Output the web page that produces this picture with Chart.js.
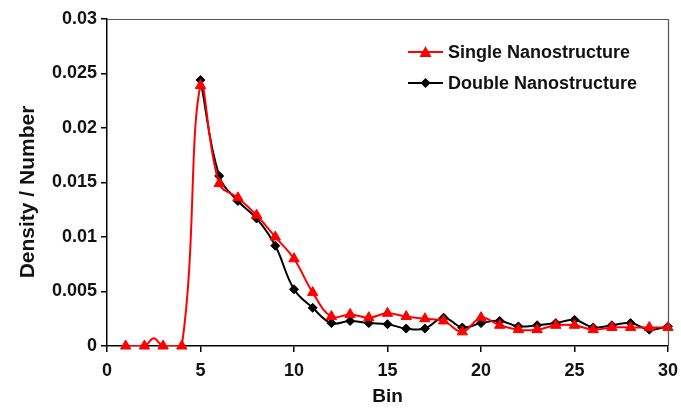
<!DOCTYPE html>
<html>
<head>
<meta charset="utf-8">
<script src="https://cdn.jsdelivr.net/npm/chart.js@4"></script>
<style>
  html, body { margin: 0; padding: 0; background: #fff; }
  canvas { display: block; }
</style>
</head>
<body>
<canvas id="density-chart" width="681" height="412"></canvas>
<script>
const bins = [1, 2, 3, 4, 5, 6, 7, 8, 9, 10, 11, 12, 13, 14, 15, 16, 17, 18, 19, 20, 21, 22, 23, 24, 25, 26, 27, 28, 29, 30];
const singleValues = [0, 0, 0, 0, 0.0239, 0.0149, 0.0136, 0.012, 0.01, 0.008, 0.0049, 0.0027, 0.0029, 0.0026, 0.003,
  0.0027, 0.0025, 0.0023, 0.0013, 0.0026, 0.0019, 0.0015, 0.0015, 0.0019, 0.0019, 0.0015, 0.0017, 0.0017, 0.0017, 0.0017];
// the single curve has a small bump between bins 2 and 3 with no marker
const singleBumpBins = [2.5];
const singleBumpValues = [0.0007];
const doubleBins = [5, 6, 7, 8, 9, 10, 11, 12, 13, 14, 15, 16, 17, 18, 19, 20, 21, 22, 23, 24, 25, 26, 27, 28, 29, 30];
const doubleValues = [0.0244, 0.0156, 0.0133, 0.0117, 0.0092, 0.0052, 0.0035, 0.0021, 0.0023, 0.0021, 0.002,
  0.0016, 0.0016, 0.0026, 0.0017, 0.0021, 0.0023, 0.0018, 0.0019, 0.0021, 0.0024, 0.0017, 0.0019, 0.0021, 0.0015, 0.0018];
const seriesNames = ["Single Nanostructure", "Double Nanostructure"];
const xTicks = [0, 5, 10, 15, 20, 25, 30];

const FONT = "'Liberation Sans', Arial, sans-serif";
const RED = "#ff0000";
const BLACK = "#000000";

const singleMarkers = bins.map((b, i) => ({ x: b, y: singleValues[i] }));
const singleLine = singleMarkers
  .concat(singleBumpBins.map((b, i) => ({ x: b, y: singleBumpValues[i] })))
  .sort((a, b) => a.x - b.x);
const doubleMarkers = doubleBins.map((b, i) => ({ x: b, y: doubleValues[i] }));

const frameAndLegend = {
  id: "frameAndLegend",
  afterDraw(chart) {
    const ctx = chart.ctx;
    const a = chart.chartArea;
    ctx.save();
    ctx.strokeStyle = "#555";
    ctx.lineWidth = 1.2;
    ctx.beginPath();
    ctx.moveTo(a.left, a.top + 0.5);
    ctx.lineTo(a.right + 0.5, a.top + 0.5);
    ctx.lineTo(a.right + 0.5, a.bottom);
    ctx.stroke();

    // y axis title
    ctx.save();
    ctx.translate(28, 192);
    ctx.rotate(-Math.PI / 2);
    ctx.fillStyle = "#111";
    ctx.font = "bold 21px " + FONT;
    ctx.textAlign = "center";
    ctx.textBaseline = "middle";
    ctx.fillText("Density / Number", 0, 0);
    ctx.restore();

    // legend inside the plot, top right
    const rows = [52, 83];
    const styles = [
      { color: RED, shape: "triangle" },
      { color: BLACK, shape: "diamond" },
    ];
    seriesNames.forEach((name, i) => {
      const y = rows[i];
      const s = styles[i];
      ctx.strokeStyle = s.color;
      ctx.lineWidth = 2;
      ctx.beginPath();
      ctx.moveTo(408, y);
      ctx.lineTo(443, y);
      ctx.stroke();
      ctx.fillStyle = s.color;
      ctx.beginPath();
      if (s.shape === "triangle") {
        ctx.moveTo(425.5, y - 6);
        ctx.lineTo(431.5, y + 5);
        ctx.lineTo(419.5, y + 5);
      } else {
        ctx.moveTo(425.5, y - 5);
        ctx.lineTo(430.5, y);
        ctx.lineTo(425.5, y + 5);
        ctx.lineTo(420.5, y);
      }
      ctx.closePath();
      ctx.fill();
      ctx.fillStyle = "#111";
      ctx.font = "bold 18px " + FONT;
      ctx.textBaseline = "middle";
      ctx.textAlign = "left";
      ctx.fillText(name, 448, y + 1);
    });
    ctx.restore();
  },
};

const ctx = document.getElementById("density-chart").getContext("2d");
new Chart(ctx, {
  type: "line",
  data: {
    datasets: [
      {
        label: seriesNames[0] + " markers",
        data: singleMarkers,
        showLine: false,
        backgroundColor: RED,
        borderColor: RED,
        pointStyle: "triangle",
        pointRadius: 6,
        clip: false,
      },
      {
        label: seriesNames[0],
        data: singleLine,
        borderColor: RED,
        borderWidth: 2,
        pointRadius: 0,
        tension: 0.4,
      },
      {
        label: seriesNames[1] + " markers",
        data: doubleMarkers,
        showLine: false,
        backgroundColor: BLACK,
        borderColor: BLACK,
        pointStyle: "rectRot",
        pointRadius: 4.5,
        clip: false,
      },
      {
        label: seriesNames[1],
        data: doubleMarkers,
        borderColor: BLACK,
        borderWidth: 2,
        pointRadius: 0,
        tension: 0.4,
      },
    ],
  },
  options: {
    responsive: false,
    animation: false,
    maintainAspectRatio: false,
    layout: { padding: { left: 0, top: 19, right: 0, bottom: 0 } },
    plugins: {
      legend: { display: false },
      tooltip: { enabled: false },
    },
    scales: {
      x: {
        type: "linear",
        min: 0,
        max: 30,
        afterBuildTicks: (scale) => {
          scale.ticks = xTicks.map((v) => ({ value: v }));
        },
        afterFit: (scale) => {
          scale.height = 66;
          scale.paddingRight = 13;
        },
        border: { color: "#000", width: 1.5 },
        grid: { drawOnChartArea: false, drawTicks: true, tickLength: 6, tickColor: "#000", lineWidth: 1.5 },
        ticks: { color: "#111", font: { family: FONT, size: 18, weight: "bold" }, padding: 8, maxRotation: 0 },
        title: { display: true, text: "Bin", color: "#111", font: { family: FONT, size: 19, weight: "bold" }, padding: { top: 9 } },
      },
      y: {
        min: 0,
        max: 0.03,
        ticks: {
          stepSize: 0.005,
          color: "#111",
          font: { family: FONT, size: 18, weight: "bold" },
          padding: 4,
          callback: (v) => String(parseFloat(v.toFixed(3))),
        },
        afterFit: (scale) => {
          scale.width = 107;
        },
        border: { color: "#000", width: 1.5 },
        grid: { drawOnChartArea: false, drawTicks: true, tickLength: 6, tickColor: "#000", lineWidth: 1.5 },
      },
    },
  },
  plugins: [frameAndLegend],
});
</script>
</body>
</html>
